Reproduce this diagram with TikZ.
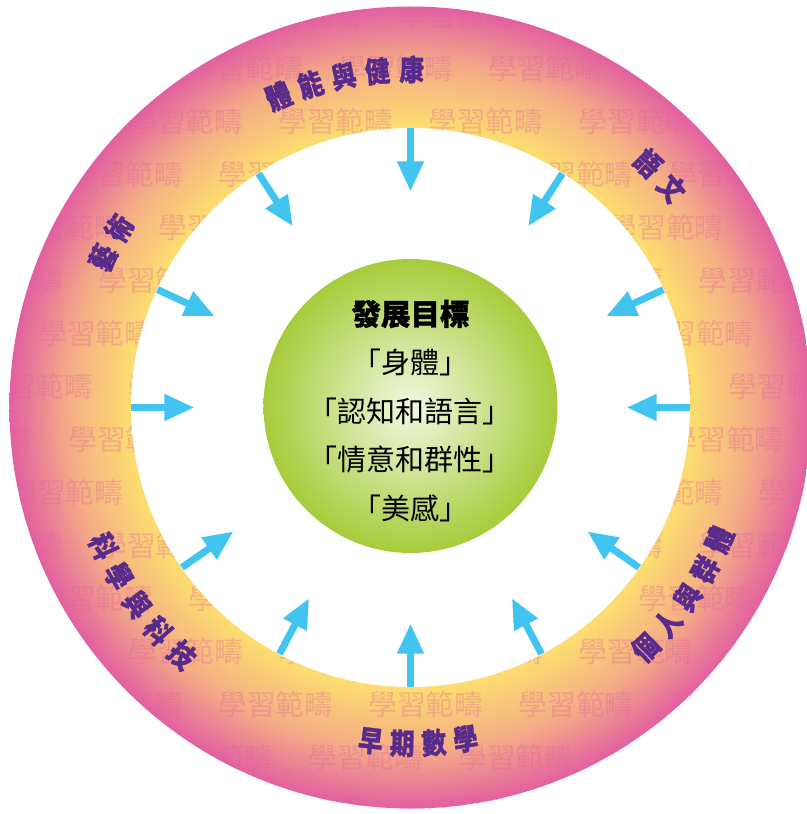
\documentclass[tikz,border=0pt]{standalone}
\usepackage{fontspec}
\usepackage{tikz}
\usetikzlibrary{arrows.meta}
\newfontfamily\cjk{Noto Sans CJK TC}
\newfontfamily\cjkheavy{Noto Sans CJK TC}[BoldFeatures={FakeBold=1.2}]

\definecolor{ringyellow}{RGB}{252,220,112}
\definecolor{ringorange}{RGB}{244,172,134}
\definecolor{ringpink}{RGB}{226,96,160}
\definecolor{wmpink}{RGB}{226,96,160}
\definecolor{arrowblue}{RGB}{66,196,240}
\definecolor{labelpurple}{RGB}{88,42,140}
\definecolor{ballgreen}{RGB}{166,204,58}
\definecolor{ballcore}{RGB}{242,248,226}

\pgfdeclareradialshading{ringshade}{\pgfpointorigin}{color(0bp)=(ringyellow); color(17.6bp)=(ringyellow); color(21.4bp)=(ringorange); color(25bp)=(ringpink); color(50bp)=(ringpink)}

\tikzset{
  wmark/.style={font=\cjk\fontsize{28.7}{30}\selectfont, text=wmpink, opacity=0.32, inner sep=0pt},
  arealabel/.style={font=\cjkheavy\bfseries\fontsize{29}{30}\selectfont, text=labelpurple, inner sep=0pt},
  goalhead/.style={font=\cjkheavy\bfseries\fontsize{29.5}{31}\selectfont, inner sep=0pt},
  goalline/.style={font=\cjk\fontsize{29}{31}\selectfont, inner sep=0pt},
  inarrow/.style={draw=arrowblue, line width=7pt, -{Triangle[length=30pt,width=25pt]}}
}

\begin{document}
\begin{tikzpicture}[x=1pt,y=1pt]
            \useasboundingbox (-410.5,-406.5) rectangle (395.5,407.5);

            % The ring of learning areas
            \shade[shading=ringshade] (0,0) circle (401);
            \begin{scope}
                \clip (0,0) circle (401);
                \foreach \k in {0,...,15}
                    \foreach \m in {-4,...,9}
                        \node[wmark] (wm-\k-\m) at ({45.5-60*\k+150*\m}, {391.5-53*\k}) {學習範疇};
            \end{scope}
            \fill[white] (0,0) circle (279.5);

            % The arrows pointing in
            \foreach \ang [count=\i] in {0,25,57,90,123,155,180,215,242,270,298,325} {
                \coordinate (s\i) at (\ang:279);
                \coordinate (t\i) at (\ang:216);
                \draw[inarrow] (s\i) -- (t\i);
            }

            % Place the center ball
            \shade[inner color=ballcore, outer color=ballgreen] (0,1.5) circle (147);
            \node[goalhead] (goal) at (0,93.5) {發展目標};
            \node[goalline] (g1) at (0,45) {「身體」};
            \node[goalline] (g2) at (0,-3.5) {「認知和語言」};
            \node[goalline] (g3) at (0,-52) {「情意和群性」};
            \node[goalline] (g4) at (0,-100.5) {「美感」};

            % The labels on the ring
            \foreach \ch/\ang [count=\i] in {體/113.0, 能/107.2, 與/101.4, 健/95.6, 康/89.8}
                \node[arealabel, rotate=\ang-90, xscale=0.85] (pe\i) at (\ang:338) {\ch};
            \foreach \ch/\ang [count=\i] in {語/45.8, 文/40.0}
                \node[arealabel, rotate=\ang-90, xscale=0.85] (la\i) at (\ang:341) {\ch};
            \foreach \ch/\ang [count=\i] in {個/-45.6, 人/-40.0, 與/-34.4, 群/-28.8, 體/-23.2}
                \node[arealabel, rotate=\ang+90, xscale=0.85] (ps\i) at (\ang:336) {\ch};
            \foreach \ch/\ang [count=\i] in {早/263.2, 期/268.6, 數/274.0, 學/279.4}
                \node[arealabel, rotate=\ang+90, xscale=0.85] (em\i) at (\ang:336) {\ch};
            \foreach \ch/\ang [count=\i] in {科/204.3, 學/210.0, 與/215.8, 科/221.5, 技/227.3}
                \node[arealabel, rotate=\ang+90, xscale=0.85] (st\i) at (\ang:337) {\ch};
            \foreach \ch/\ang [count=\i] in {藝/154.0, 術/148.4}
                \node[arealabel, rotate=\ang-90, xscale=0.85] (ar\i) at (\ang:342) {\ch};
        \end{tikzpicture}
\end{document}
